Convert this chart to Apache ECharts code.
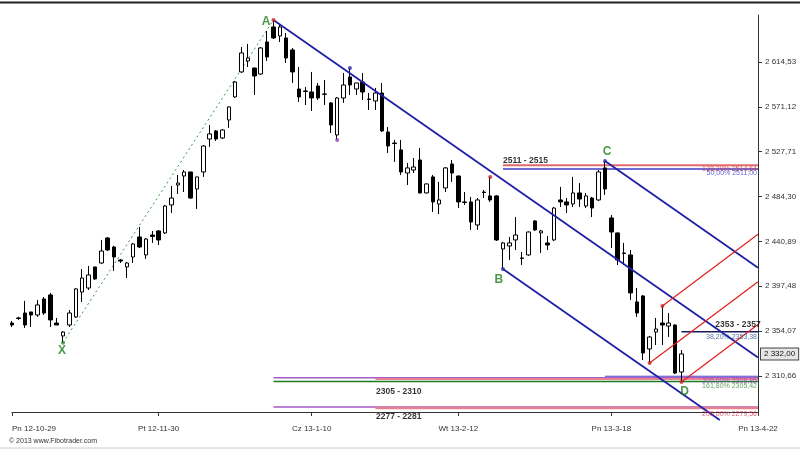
<!DOCTYPE html>
<html><head><meta charset="utf-8">
<script src="https://cdn.jsdelivr.net/npm/echarts@6/dist/echarts.min.js"></script>
<style>html,body{margin:0;padding:0;background:#fff}#c{width:800px;height:450px}</style>
</head><body><div id="c"></div>
<script>
// ---------- axis ticks ----------
const slotCount = 118;
const tickIndex = [0, 23, 47, 70, 94, 117];
const tickLabels = ['Pn 12-10-29', 'Pt 12-11-30', 'Cz 13-1-10', 'Wt 13-2-12', 'Pn 13-3-18', 'Pn 13-4-22'];
const yTicks = [2310.66, 2354.07, 2397.48, 2440.89, 2484.30, 2527.71, 2571.12, 2614.53];
const yMin = 2275.8, yMax = 2660.0;

// ---------- candles: [open, close, low, high] ----------
const ohlc = [
 [2361.9,2360.0,2358.1,2363.9],[2366.8,2366.3,2364.9,2368.0],[2371.6,2360.0,2357.1,2383.3],[2372.6,2369.7,2358.1,2372.6],
 [2369.7,2379.4,2367.8,2384.2],[2385.2,2371.6,2369.7,2387.1],[2389.1,2364.9,2358.1,2391.0],[2361.9,2360.0,2360.0,2366.8],
 [2349.4,2353.2,2342.9,2354.2],[2360.0,2371.6,2358.1,2374.5],[2367.8,2394.9,2366.8,2395.8],[2391.9,2405.5,2382.3,2414.2],
 [2395.8,2408.4,2393.9,2417.1],[2416.2,2404.6,2403.6,2416.2],[2420.0,2431.6,2419.1,2442.3],[2444.2,2432.6,2431.6,2445.2],
 [2435.5,2425.8,2412.3,2436.5],[2422.9,2421.9,2420.0,2423.9],[2416.2,2420.0,2405.5,2421.0],[2425.8,2438.4,2420.0,2439.4],
 [2445.2,2435.5,2434.5,2454.9],[2427.8,2443.2,2423.9,2444.2],[2447.1,2445.7,2439.4,2451.0],[2451.0,2442.3,2437.4,2452.0],
 [2449.1,2475.2,2448.1,2476.2],[2476.2,2482.9,2468.4,2494.5],[2495.5,2497.4,2486.8,2505.2],[2504.2,2508.1,2488.7,2510.0],
 [2508.1,2482.9,2482.0,2508.1],[2491.6,2503.3,2472.3,2503.3],[2508.1,2533.2,2503.3,2534.2],[2540.0,2544.9,2532.3,2553.6],
 [2547.8,2540.0,2538.1,2548.7],[2541.0,2548.7,2540.0,2549.7],[2558.4,2571.0,2550.7,2571.5],[2580.7,2595.2,2579.7,2596.2],
 [2604.9,2623.3,2604.0,2629.1],[2615.5,2618.4,2609.7,2632.0],[2608.7,2601.0,2582.6,2609.0],[2602.9,2628.1,2602.0,2629.0],
 [2633.9,2619.4,2615.5,2644.6],[2648.4,2637.8,2636.8,2655.2],[2639.7,2648.4,2633.9,2650.4],[2637.8,2618.4,2613.6,2642.6],
 [2626.2,2604.9,2594.2,2628.1],[2588.4,2580.7,2575.8,2609.7],[2586.5,2586.0,2572.9,2590.4],[2585.5,2579.7,2567.1,2604.9],
 [2591.3,2579.7,2577.8,2594.2],[2583.6,2583.2,2572.9,2597.1],[2574.9,2553.6,2545.8,2575.8],[2543.9,2579.7,2539.1,2580.7],
 [2579.7,2592.3,2574.9,2603.9],[2600.0,2592.3,2582.6,2608.7],[2588.4,2594.2,2582.6,2594.5],[2595.2,2585.5,2577.8,2603.9],
 [2578.7,2578.2,2568.1,2584.5],[2576.8,2584.5,2568.1,2589.4],[2584.5,2547.8,2546.8,2594.2],[2546.8,2533.2,2526.5,2551.6],
 [2536.1,2535.6,2517.8,2539.1],[2529.4,2508.1,2505.2,2539.1],[2507.1,2512.0,2495.5,2516.8],[2510.0,2512.9,2507.1,2521.6],
 [2519.7,2487.8,2487.3,2531.3],[2487.8,2496.5,2487.3,2497.0],[2503.3,2479.1,2469.4,2505.2],[2477.1,2481.0,2467.4,2498.4],
 [2492.6,2512.0,2488.7,2512.9],[2515.8,2507.1,2498.4,2519.7],[2504.2,2479.1,2473.2,2504.6],[2479.1,2478.6,2476.2,2488.7],
 [2479.1,2459.7,2452.0,2483.9],[2456.8,2481.0,2452.0,2482.9],[2488.7,2488.2,2482.9,2490.7],[2484.9,2481.0,2479.1,2503.3],
 [2484.9,2442.3,2441.3,2485.8],[2433.6,2439.4,2414.2,2440.4],[2436.5,2439.4,2422.9,2445.2],[2442.3,2447.1,2432.6,2464.5],
 [2424.9,2424.4,2418.1,2430.7],[2427.8,2450.0,2427.0,2450.5],[2460.7,2452.0,2451.0,2461.5],[2449.1,2451.0,2429.7,2452.0],
 [2439.4,2437.4,2432.6,2446.1],[2442.3,2473.2,2441.3,2474.2],[2481.0,2479.1,2474.2,2493.6],[2479.1,2476.2,2468.4,2482.9],
 [2477.1,2487.8,2474.2,2503.3],[2487.8,2481.9,2474.2,2497.4],[2475.2,2484.9,2473.2,2487.8],[2482.9,2473.2,2464.5,2483.9],
 [2481.0,2508.1,2480.0,2510.0],[2512.0,2491.6,2485.8,2518.7],[2463.6,2450.0,2434.5,2466.5],[2449.1,2422.9,2418.1,2449.5],
 [2429.7,2429.2,2418.1,2439.4],[2427.8,2391.0,2384.2,2432.6],[2382.3,2371.6,2367.8,2395.8],[2388.1,2332.9,2326.1,2389.1],
 [2336.8,2348.4,2323.2,2349.4],[2353.2,2356.1,2340.6,2366.8],[2361.9,2360.0,2340.6,2378.4],[2359.0,2361.9,2348.4,2371.6],
 [2360.0,2313.5,2312.6,2360.5],[2314.5,2332.0,2304.8,2335.8]
];
const lastPrice = 2332.00;

// ---------- harmonic pattern points ----------
const patternNames = ['X', 'A', 'B', 'C', 'D'];
const patternIdx = [8, 41, 77, 93, 105];
const patternVal = [2343.0, 2655.2, 2414.2, 2518.7, 2304.0];

// ---------- channel lines (blue) ----------
const channelStartIdx = [41, 77, 93];
const channelStartVal = [2655.2, 2414.2, 2518.7];
const channelEndIdx = [117, 111, 117];
const channelEndVal = [2328.5, 2268.0, 2415.5];

// ---------- red parallel lines ----------
const redStartIdx = [102, 100, 105];
const redStartVal = [2378.4, 2323.2, 2304.8];
const redEndIdx = [117, 117, 117];
const redEndVal = [2447.8, 2401.9, 2360.4];

// ---------- fibonacci levels ----------
const levelVal = [2514.64, 2511.00, 2353.38, 2310.40, 2308.86, 2307.80, 2305.42, 2280.70, 2279.56];
const levelStart = [77, 77, 105, 93, 41, 57, 41, 41, 57];
const levelColor = ['#e36a6a', '#3b3bc4', '#1c1c5c', '#4646cc', '#a75ac9', '#e8828e', '#1f7a1f', '#a75ac9', '#e8828e'];
const levelWidth = [2, 1.5, 1.5, 1, 1.5, 2, 1.5, 1.5, 2.5];

const levelTexts = ['138,20% 2514,64', '50,00% 2511,00', '38,20% 2353,38', '200,00% 2308,86', '161,80% 2305,42', '205,00% 2279,56'];
const levelTextVal = [2514.64, 2511.00, 2353.38, 2308.86, 2305.42, 2279.56];
const levelTextColor = ['#e03a3a', '#3a3ac8', '#1f4f8f', '#9a44c0', '#3a8a3a', '#d8345a'];
const levelTextDy = [4, 4, 5, 3, 5, 6];

const zoneTexts = ['2511 - 2515', '2353 - 2357', '2305 - 2310', '2277 - 2281'];
const zoneIdx = [77, 110.3, 57.1, 57.1];
const zoneVal = [2514.64, 2353.38, 2305.42, 2279.56];
const zoneDy = [-5, -7, 10, 9];

// ---------- swing markers ----------
const markerIdx = [8, 41, 51, 53, 75, 77, 93, 100, 102, 105];
const markerVal = [2342.9, 2655.2, 2539.1, 2608.7, 2503.3, 2414.2, 2518.7, 2323.2, 2378.4, 2304.8];
const markerColor = ['#2e8b2e', '#d02020', '#9a44c0', '#2a2ab0', '#d02020', '#2a2ab0', '#2a2ab0', '#d02020', '#d02020', '#d02020'];

// ---------- build ----------
const fmtY = v => {
  const s = Number(v).toFixed(2).split('.');
  return s[0].replace(/\B(?=(\d{3})+(?!\d))/g, ' ') + ',' + s[1];
};
const cats = Array.from({length: slotCount}, (_, i) => String(i));
const FONT = "'Liberation Sans', Arial, sans-serif";

const series = [];
series.push({
  type: 'candlestick', xAxisIndex: 0, yAxisIndex: 0, data: ohlc, barWidth: 4, z: 5,
  itemStyle: {color: '#ffffff', color0: '#000000', borderColor: '#000000', borderColor0: '#000000', borderWidth: 1}
});
// last price box
series.push({type: 'line', xAxisIndex: 1, yAxisIndex: 0, silent: true, symbol: 'none', z: 10, clip: false,
  data: [[slotCount - 1, lastPrice]], lineStyle: {width: 0},
  markPoint: {
    symbol: 'rect', symbolSize: 0, silent: true,
    data: [{coord: [slotCount - 1, lastPrice]}],
    label: {show: true, position: 'right', distance: 3, formatter: () => fmtY(lastPrice), fontSize: 8, fontFamily: FONT, color: '#111',
      backgroundColor: '#e6e6e6', borderColor: '#444', borderWidth: 1, padding: [2, 3, 1, 3]}
  }});
// XA dotted
series.push({type: 'line', xAxisIndex: 1, yAxisIndex: 0, silent: true, symbol: 'none', z: 3,
  data: [[patternIdx[0], patternVal[0]], [patternIdx[1], patternVal[1]]],
  lineStyle: {color: '#3f9a3f', width: 1, type: [2, 3]}});
// channels
for (let k = 0; k < channelStartIdx.length; k++) {
  series.push({type: 'line', xAxisIndex: 1, yAxisIndex: 0, silent: true, symbol: 'none', z: 6, clip: false,
    data: [[channelStartIdx[k], channelStartVal[k]], [channelEndIdx[k], channelEndVal[k]]],
    lineStyle: {color: '#1f1fa8', width: 1.8}});
}
// red lines
for (let k = 0; k < redStartIdx.length; k++) {
  series.push({type: 'line', xAxisIndex: 1, yAxisIndex: 0, silent: true, symbol: 'none', z: 6,
    data: [[redStartIdx[k], redStartVal[k]], [redEndIdx[k], redEndVal[k]]],
    lineStyle: {color: '#e01e1e', width: 1.2}});
}
// levels
for (let k = 0; k < levelVal.length; k++) {
  series.push({type: 'line', xAxisIndex: 1, yAxisIndex: 0, silent: true, symbol: 'none', z: 4, clip: false,
    data: [[levelStart[k], levelVal[k]], [slotCount - 1, levelVal[k]]],
    lineStyle: {color: levelColor[k], width: levelWidth[k]}});
}
// level texts (right side)
series.push({type: 'scatter', xAxisIndex: 1, yAxisIndex: 0, silent: true, symbolSize: 0, z: 8, clip: false,
  data: levelTexts.map((t, k) => ({value: [slotCount - 1, levelTextVal[k]],
    label: {show: true, position: 'left', distance: 1, offset: [0, levelTextDy[k]], formatter: t,
      fontSize: 7, fontFamily: FONT, color: levelTextColor[k]}}))});
// zone texts
series.push({type: 'scatter', xAxisIndex: 1, yAxisIndex: 0, silent: true, symbolSize: 0, z: 8, clip: false,
  data: zoneTexts.map((t, k) => ({value: [zoneIdx[k], zoneVal[k]],
    label: {show: true, position: 'right', distance: 0, offset: [0, zoneDy[k]], formatter: t,
      fontSize: 8.5, fontWeight: 'bold', fontFamily: FONT, color: '#000'}}))});
// markers
series.push({type: 'scatter', xAxisIndex: 1, yAxisIndex: 0, silent: true, symbol: 'circle', symbolSize: 4, z: 9, clip: false,
  data: markerIdx.map((x, k) => ({value: [x, markerVal[k]], itemStyle: {color: markerColor[k]}}))});
// pattern letters
const letterPos = ['bottom', 'left', 'bottom', 'top', 'bottom'];
const letterOff = [[-1, 0], [0, 2], [-4, 0], [2, 0], [3, 1]];
const letterDist = [2, 3, 5, 3, 2];
series.push({type: 'scatter', xAxisIndex: 1, yAxisIndex: 0, silent: true, symbolSize: 0, z: 9, clip: false,
  data: patternNames.map((n, k) => ({value: [patternIdx[k], patternVal[k]],
    label: {show: true, position: letterPos[k], distance: letterDist[k], offset: letterOff[k], formatter: n,
      fontSize: 12, fontWeight: 'bold', fontFamily: FONT, color: '#1e801e'}}))});

const chart = echarts.init(document.getElementById('c'), null, {renderer: 'canvas'});
chart.setOption({
  animation: false,
  backgroundColor: '#ffffff',
  grid: {left: 12, right: 42, top: 15, bottom: 38, containLabel: false},
  xAxis: [
    {type: 'category', data: cats, boundaryGap: false,
     axisLine: {show: true, onZero: false, lineStyle: {color: '#333', width: 1}},
     axisTick: {show: true, interval: (i) => tickIndex.includes(i), length: 4, lineStyle: {color: '#333'}},
     axisLabel: {show: true, interval: (i) => tickIndex.includes(i), formatter: (v, i) => tickLabels[tickIndex.indexOf(i)] || '',
       fontSize: 8, fontFamily: FONT, color: '#333', margin: 13, alignMinLabel: 'left', alignMaxLabel: 'center'},
     splitLine: {show: false}},
    {type: 'value', min: 0, max: slotCount - 1, show: false}
  ],
  yAxis: [{type: 'value', position: 'right', min: yMin, max: yMax, scale: true,
    axisLine: {show: true, onZero: false, lineStyle: {color: '#333', width: 1}},
    axisTick: {show: true, length: 4, customValues: yTicks, lineStyle: {color: '#333'}},
    axisLabel: {show: true, customValues: yTicks, formatter: fmtY, fontSize: 8, fontFamily: FONT, color: '#333', margin: 7},
    splitLine: {show: false}}],
  graphic: [
    {type: 'line', shape: {x1: 0, y1: 2.5, x2: 800, y2: 2.5}, style: {stroke: '#222', lineWidth: 2}, silent: true},
    {type: 'line', shape: {x1: 0, y1: 448, x2: 800, y2: 448}, style: {stroke: '#cccccc', lineWidth: 1}, silent: true},
    {type: 'text', left: 9, top: 438, style: {text: '© 2013 www.Fibotrader.com', fontSize: 7, fontFamily: FONT, fill: '#333'}, silent: true}
  ],
  series: series
});
</script></body></html>
